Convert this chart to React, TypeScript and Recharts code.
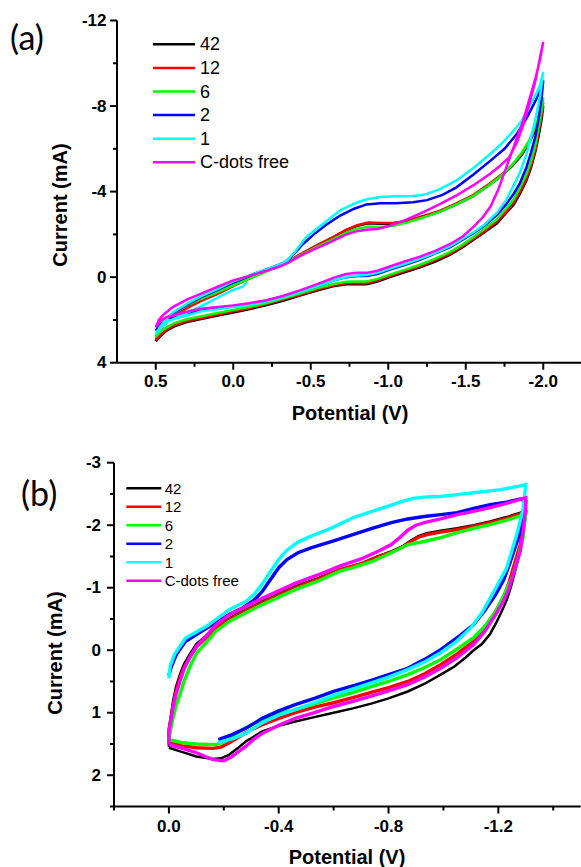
import React from 'react';
import { LineChart, Line, XAxis, YAxis, Legend } from 'recharts';

type Pt = [number, number];

const SERIES_NAMES = ['42', '12', '6', '2', '1', 'C-dots free'];
const SERIES_COLORS = ['#000000', '#ff0000', '#00ff00', '#0000ff', '#00ffff', '#ff00ff'];

// ---------- panel (a) axes ----------
const A_X_MAJOR = [0.5, 0, -0.5, -1, -1.5, -2];
const A_X_LABELS = ['0.5', '0.0', '-0.5', '-1.0', '-1.5', '-2.0'];
const A_X_MINOR = [0.25, -0.25, -0.75, -1.25, -1.75];
const A_Y_MAJOR = [-12, -8, -4, 0, 4];
const A_Y_LABELS = ['-12', '-8', '-4', '0', '4'];
const A_Y_MINOR = [-10, -6, -2, 2];

// ---------- panel (a) data: [potential V, current mA] ----------
const A_42: Pt[] = [
  [0.5, 3.0], [0.47, 2.75], [0.43, 2.5], [0.38, 2.3], [0.3, 2.1], [0.2, 1.95], [0.1, 1.8], [0.0, 1.65],
  [-0.1, 1.5], [-0.21, 1.32], [-0.32, 1.1], [-0.43, 0.86], [-0.55, 0.6], [-0.65, 0.42], [-0.73, 0.33],
  [-0.8, 0.32], [-0.86, 0.33], [-0.93, 0.2], [-1.01, 0.0], [-1.1, -0.22], [-1.2, -0.45], [-1.3, -0.72],
  [-1.4, -1.05], [-1.48, -1.4], [-1.55, -1.75], [-1.62, -2.1], [-1.7, -2.5], [-1.76, -3.0], [-1.81, -3.4],
  [-1.85, -3.9], [-1.89, -4.5], [-1.92, -5.1], [-1.95, -5.9], [-1.97, -6.6], [-1.99, -7.4], [-2.0, -8.0],
  [-1.98, -7.5], [-1.95, -6.9], [-1.91, -6.3], [-1.86, -5.7], [-1.8, -5.2], [-1.74, -4.8], [-1.65, -4.3],
  [-1.55, -3.8], [-1.44, -3.4], [-1.33, -3.05], [-1.22, -2.8], [-1.12, -2.6], [-1.03, -2.5], [-0.95, -2.5],
  [-0.87, -2.52], [-0.8, -2.4], [-0.73, -2.2], [-0.63, -1.8], [-0.52, -1.4], [-0.42, -1.0], [-0.35, -0.7],
  [-0.3, -0.55], [-0.2, -0.25], [-0.1, 0.05], [0.0, 0.39], [0.1, 0.75], [0.21, 1.09], [0.3, 1.4],
  [0.39, 1.8], [0.45, 2.2], [0.48, 2.6], [0.5, 3.0],
];
const A_12: Pt[] = [
  [0.5, 2.95], [0.47, 2.7], [0.43, 2.45], [0.38, 2.25], [0.3, 2.05], [0.2, 1.9], [0.1, 1.75], [0.0, 1.6],
  [-0.1, 1.45], [-0.21, 1.27], [-0.32, 1.05], [-0.43, 0.82], [-0.55, 0.56], [-0.65, 0.38], [-0.73, 0.29],
  [-0.8, 0.27], [-0.86, 0.28], [-0.93, 0.15], [-1.01, -0.05], [-1.1, -0.27], [-1.2, -0.5], [-1.3, -0.78],
  [-1.4, -1.1], [-1.48, -1.45], [-1.55, -1.8], [-1.62, -2.15], [-1.7, -2.6], [-1.76, -3.05], [-1.81, -3.5],
  [-1.85, -4.0], [-1.89, -4.6], [-1.92, -5.2], [-1.95, -6.0], [-1.97, -6.8], [-1.99, -7.6], [-2.0, -8.2],
  [-1.98, -7.6], [-1.95, -7.0], [-1.91, -6.35], [-1.86, -5.75], [-1.8, -5.25], [-1.74, -4.85], [-1.65, -4.35],
  [-1.55, -3.85], [-1.44, -3.45], [-1.33, -3.1], [-1.22, -2.85], [-1.12, -2.63], [-1.03, -2.53], [-0.95, -2.53],
  [-0.87, -2.55], [-0.8, -2.43], [-0.73, -2.22], [-0.63, -1.82], [-0.52, -1.42], [-0.42, -1.02], [-0.35, -0.7],
  [-0.3, -0.55], [-0.2, -0.23], [-0.1, 0.08], [0.0, 0.42], [0.1, 0.78], [0.21, 1.12], [0.3, 1.45],
  [0.39, 1.85], [0.45, 2.25], [0.48, 2.6], [0.5, 2.95],
];
const A_6: Pt[] = [
  [0.5, 2.8], [0.47, 2.55], [0.43, 2.35], [0.38, 2.15], [0.3, 1.97], [0.2, 1.82], [0.1, 1.68], [0.0, 1.53],
  [-0.1, 1.4], [-0.21, 1.22], [-0.32, 1.0], [-0.43, 0.77], [-0.55, 0.5], [-0.65, 0.32], [-0.73, 0.22],
  [-0.8, 0.2], [-0.86, 0.2], [-0.93, 0.08], [-1.01, -0.12], [-1.1, -0.33], [-1.2, -0.57], [-1.3, -0.85],
  [-1.4, -1.18], [-1.48, -1.52], [-1.55, -1.88], [-1.62, -2.25], [-1.7, -2.7], [-1.76, -3.2], [-1.81, -3.65],
  [-1.85, -4.2], [-1.89, -4.8], [-1.92, -5.4], [-1.95, -6.2], [-1.97, -7.0], [-1.99, -7.8], [-2.0, -8.4],
  [-1.98, -7.8], [-1.95, -7.1], [-1.91, -6.4], [-1.86, -5.8], [-1.8, -5.25], [-1.74, -4.8], [-1.65, -4.3],
  [-1.55, -3.8], [-1.44, -3.4], [-1.33, -3.05], [-1.22, -2.78], [-1.12, -2.55], [-1.03, -2.4], [-0.95, -2.35],
  [-0.87, -2.36], [-0.8, -2.26], [-0.73, -2.08], [-0.63, -1.72], [-0.52, -1.35], [-0.42, -0.97], [-0.35, -0.68],
  [-0.3, -0.53], [-0.2, -0.22], [-0.1, 0.08], [0.0, 0.38], [0.1, 0.7], [0.21, 1.02], [0.3, 1.33],
  [0.39, 1.72], [0.45, 2.12], [0.48, 2.45], [0.5, 2.8],
];
const A_2: Pt[] = [
  [0.5, 2.5], [0.47, 2.2], [0.43, 2.0], [0.3, 1.75], [0.21, 1.55], [0.1, 1.45], [0.0, 1.35], [-0.1, 1.25],
  [-0.21, 1.1], [-0.32, 0.9], [-0.43, 0.68], [-0.55, 0.4], [-0.65, 0.15], [-0.73, 0.0], [-0.8, -0.05],
  [-0.86, -0.05], [-0.93, -0.15], [-1.01, -0.35], [-1.1, -0.55], [-1.2, -0.8], [-1.3, -1.1], [-1.4, -1.4],
  [-1.48, -1.75], [-1.55, -2.05], [-1.62, -2.4], [-1.7, -2.9], [-1.76, -3.4], [-1.81, -3.9], [-1.85, -4.4],
  [-1.89, -5.1], [-1.92, -5.8], [-1.95, -6.6], [-1.97, -7.4], [-1.99, -8.4], [-2.0, -9.2],
  [-1.98, -8.7], [-1.94, -8.1], [-1.89, -7.4], [-1.83, -6.7], [-1.75, -6.0], [-1.66, -5.45], [-1.55, -4.8],
  [-1.44, -4.2], [-1.35, -3.85], [-1.25, -3.6], [-1.16, -3.5], [-1.05, -3.45], [-0.95, -3.45], [-0.86, -3.4],
  [-0.78, -3.2], [-0.69, -2.88], [-0.6, -2.45], [-0.52, -2.0], [-0.45, -1.55], [-0.4, -1.15], [-0.36, -0.85],
  [-0.32, -0.65], [-0.25, -0.45], [-0.15, -0.2], [0.0, 0.25], [0.1, 0.6], [0.21, 0.95], [0.3, 1.3],
  [0.39, 1.7], [0.45, 2.1], [0.5, 2.5],
];
const A_1: Pt[] = [
  [-0.09, 0.23], [-0.06, 0.45], [0.0, 0.6], [0.06, 0.8], [0.15, 1.15], [0.22, 1.4], [0.28, 1.6], [0.35, 1.85],
  [0.43, 2.1], [0.5, 2.65], [0.47, 2.3], [0.43, 2.05], [0.3, 1.8], [0.21, 1.6], [0.1, 1.5], [0.0, 1.4],
  [-0.1, 1.3], [-0.21, 1.15], [-0.32, 0.95], [-0.43, 0.7], [-0.55, 0.4], [-0.65, 0.15], [-0.73, -0.02],
  [-0.8, -0.08], [-0.86, -0.1], [-0.93, -0.2], [-1.01, -0.4], [-1.1, -0.6], [-1.2, -0.85], [-1.3, -1.12],
  [-1.4, -1.45], [-1.48, -1.8], [-1.55, -2.1], [-1.62, -2.45], [-1.7, -3.0], [-1.76, -3.6], [-1.81, -4.3],
  [-1.85, -4.9], [-1.89, -5.7], [-1.92, -6.5], [-1.95, -7.4], [-1.98, -8.5], [-2.0, -9.6],
  [-1.98, -9.0], [-1.95, -8.5], [-1.91, -8.0], [-1.86, -7.3], [-1.81, -6.86], [-1.74, -6.3], [-1.66, -5.77],
  [-1.55, -5.1], [-1.44, -4.52], [-1.33, -4.1], [-1.23, -3.85], [-1.16, -3.8], [-1.05, -3.78], [-0.95, -3.75],
  [-0.87, -3.65], [-0.8, -3.5], [-0.69, -3.12], [-0.58, -2.5], [-0.47, -1.87], [-0.4, -1.2], [-0.35, -0.8],
  [-0.32, -0.65], [-0.25, -0.45], [-0.15, -0.2], [0.0, 0.2], [0.1, 0.55], [0.21, 0.9], [0.3, 1.25],
  [0.39, 1.65], [0.45, 2.1], [0.5, 2.65],
];
const A_FREE: Pt[] = [
  [0.5, 2.35], [0.47, 2.05], [0.43, 1.87], [0.3, 1.62], [0.21, 1.48], [0.1, 1.4], [0.0, 1.32], [-0.1, 1.22],
  [-0.21, 1.09], [-0.32, 0.88], [-0.43, 0.62], [-0.55, 0.3], [-0.65, 0.02], [-0.73, -0.15], [-0.8, -0.2],
  [-0.86, -0.2], [-0.93, -0.3], [-1.01, -0.5], [-1.1, -0.72], [-1.2, -0.95], [-1.3, -1.22], [-1.4, -1.55],
  [-1.48, -1.9], [-1.55, -2.35], [-1.61, -2.8], [-1.66, -3.3], [-1.71, -4.1], [-1.76, -5.1], [-1.81, -6.1],
  [-1.87, -7.3], [-1.91, -8.3], [-1.95, -9.3], [-1.98, -10.2], [-2.0, -11.0],
  [-1.98, -10.3], [-1.95, -9.2], [-1.91, -8.1], [-1.87, -7.1], [-1.83, -6.3], [-1.78, -5.6], [-1.72, -5.2],
  [-1.66, -4.85], [-1.55, -4.3], [-1.44, -3.82], [-1.33, -3.4], [-1.23, -3.05], [-1.12, -2.7], [-1.01, -2.4],
  [-0.93, -2.25], [-0.86, -2.22], [-0.8, -2.15], [-0.73, -2.0], [-0.63, -1.65], [-0.52, -1.3], [-0.42, -0.95],
  [-0.35, -0.65], [-0.3, -0.5], [-0.22, -0.31], [-0.1, -0.05], [0.0, 0.15], [0.1, 0.45], [0.21, 0.78],
  [0.3, 1.05], [0.39, 1.4], [0.45, 1.75], [0.48, 2.0], [0.5, 2.35],
];

// ---------- panel (b) axes ----------
const B_X_MAJOR = [0, -0.4, -0.8, -1.2];
const B_X_LABELS = ['0.0', '-0.4', '-0.8', '-1.2'];
const B_X_MINOR = [0.2, -0.2, -0.6, -1.0, -1.4];
const B_Y_MAJOR = [-3, -2, -1, 0, 1, 2];
const B_Y_LABELS = ['-3', '-2', '-1', '0', '1', '2'];
const B_Y_MINOR = [-2.5, -1.5, -0.5, 0.5, 1.5, 2.5];

// ---------- panel (b) data ----------
const B_42: Pt[] = [
  [0.0, 1.56], [-0.05, 1.63], [-0.1, 1.7], [-0.16, 1.74], [-0.19, 1.73], [-0.22, 1.67], [-0.25, 1.57],
  [-0.28, 1.46], [-0.31, 1.38], [-0.34, 1.3], [-0.4, 1.21], [-0.46, 1.14], [-0.53, 1.07], [-0.6, 1.0],
  [-0.67, 0.93], [-0.74, 0.85], [-0.8, 0.77], [-0.87, 0.66], [-0.93, 0.54], [-0.99, 0.39], [-1.04, 0.26],
  [-1.08, 0.12], [-1.11, 0.0], [-1.14, -0.1], [-1.17, -0.26], [-1.19, -0.42], [-1.21, -0.6], [-1.23, -0.8],
  [-1.245, -1.0], [-1.26, -1.25], [-1.27, -1.42], [-1.28, -1.65], [-1.29, -1.85], [-1.3, -2.22],
  [-1.28, -2.2], [-1.23, -2.13], [-1.17, -2.06], [-1.11, -2.0], [-1.05, -1.95], [-0.99, -1.91], [-0.94, -1.87],
  [-0.91, -1.83], [-0.88, -1.75], [-0.85, -1.66], [-0.81, -1.58], [-0.76, -1.5], [-0.7, -1.39], [-0.62, -1.29],
  [-0.54, -1.15], [-0.46, -1.02], [-0.4, -0.9], [-0.34, -0.78], [-0.28, -0.65], [-0.22, -0.51], [-0.17, -0.38],
  [-0.14, -0.25], [-0.1, -0.1], [-0.075, 0.07], [-0.055, 0.22], [-0.04, 0.39], [-0.025, 0.6], [-0.015, 0.82],
  [-0.007, 1.05], [0.0, 1.25], [0.0, 1.55],
];
const B_12: Pt[] = [
  [0.0, 1.48], [-0.05, 1.53], [-0.1, 1.56], [-0.16, 1.57], [-0.19, 1.55], [-0.22, 1.48], [-0.28, 1.32],
  [-0.34, 1.19], [-0.4, 1.09], [-0.46, 1.0], [-0.53, 0.91], [-0.6, 0.84], [-0.67, 0.76], [-0.74, 0.67],
  [-0.8, 0.6], [-0.87, 0.5], [-0.93, 0.38], [-0.99, 0.23], [-1.05, 0.06], [-1.11, -0.14], [-1.15, -0.35],
  [-1.19, -0.62], [-1.22, -0.85], [-1.24, -1.1], [-1.26, -1.4], [-1.28, -1.69], [-1.29, -1.95], [-1.3, -2.2],
  [-1.28, -2.18], [-1.23, -2.11], [-1.17, -2.04], [-1.11, -1.98], [-1.05, -1.93], [-0.99, -1.89], [-0.94, -1.85],
  [-0.91, -1.81], [-0.88, -1.73], [-0.85, -1.65], [-0.81, -1.57], [-0.76, -1.49], [-0.7, -1.38], [-0.62, -1.28],
  [-0.54, -1.13], [-0.46, -1.0], [-0.4, -0.88], [-0.34, -0.76], [-0.28, -0.63], [-0.22, -0.49], [-0.17, -0.35],
  [-0.14, -0.22], [-0.1, -0.05], [-0.075, 0.12], [-0.055, 0.28], [-0.04, 0.45], [-0.025, 0.68], [-0.015, 0.9],
  [-0.007, 1.12], [0.0, 1.3], [0.0, 1.48],
];
const B_6: Pt[] = [
  [0.0, 1.43], [-0.05, 1.48], [-0.1, 1.5], [-0.17, 1.51], [-0.2, 1.47], [-0.22, 1.4], [-0.28, 1.24],
  [-0.34, 1.11], [-0.4, 1.02], [-0.46, 0.95], [-0.53, 0.86], [-0.6, 0.76], [-0.67, 0.68], [-0.74, 0.58],
  [-0.8, 0.5], [-0.87, 0.39], [-0.93, 0.28], [-0.99, 0.15], [-1.05, -0.02], [-1.11, -0.2], [-1.15, -0.38],
  [-1.19, -0.62], [-1.22, -0.88], [-1.25, -1.16], [-1.27, -1.45], [-1.29, -1.8], [-1.3, -2.2],
  [-1.28, -2.15], [-1.23, -2.08], [-1.17, -2.01], [-1.11, -1.95], [-1.05, -1.88], [-0.99, -1.8], [-0.93, -1.74],
  [-0.87, -1.69], [-0.81, -1.56], [-0.74, -1.42], [-0.67, -1.32], [-0.62, -1.26], [-0.54, -1.1], [-0.46, -0.97],
  [-0.4, -0.85], [-0.34, -0.73], [-0.28, -0.6], [-0.22, -0.46], [-0.17, -0.3], [-0.14, -0.14], [-0.1, 0.05],
  [-0.075, 0.28], [-0.055, 0.5], [-0.04, 0.71], [-0.025, 0.9], [-0.015, 1.08], [-0.007, 1.25], [0.0, 1.43],
];
const B_2: Pt[] = [
  [-0.18, 1.43], [-0.23, 1.35], [-0.28, 1.25], [-0.34, 1.09], [-0.4, 0.97], [-0.46, 0.87], [-0.53, 0.77],
  [-0.6, 0.66], [-0.67, 0.57], [-0.74, 0.48], [-0.8, 0.39], [-0.87, 0.29], [-0.93, 0.15], [-0.99, -0.01],
  [-1.05, -0.2], [-1.11, -0.41], [-1.15, -0.63], [-1.19, -0.89], [-1.22, -1.13], [-1.24, -1.37], [-1.26, -1.63],
  [-1.28, -1.9], [-1.3, -2.38],
  [-1.28, -2.42], [-1.23, -2.37], [-1.17, -2.33], [-1.11, -2.27], [-1.05, -2.2], [-0.99, -2.17], [-0.93, -2.14],
  [-0.87, -2.1], [-0.81, -2.04], [-0.74, -1.95], [-0.67, -1.85], [-0.6, -1.75], [-0.52, -1.64], [-0.47, -1.56],
  [-0.43, -1.45], [-0.4, -1.32], [-0.37, -1.13], [-0.34, -0.94], [-0.31, -0.8], [-0.27, -0.68], [-0.22, -0.57],
  [-0.14, -0.36], [-0.1, -0.25], [-0.06, -0.14], [-0.027, 0.07], [-0.01, 0.25], [0.0, 0.4],
];
const B_1: Pt[] = [
  [-0.18, 1.48], [-0.23, 1.42], [-0.28, 1.33], [-0.34, 1.16], [-0.4, 1.04], [-0.46, 0.95], [-0.53, 0.84],
  [-0.6, 0.72], [-0.67, 0.62], [-0.74, 0.52], [-0.8, 0.43], [-0.87, 0.31], [-0.93, 0.19], [-0.99, 0.04],
  [-1.05, -0.15], [-1.1, -0.36], [-1.14, -0.6], [-1.17, -0.83], [-1.2, -1.07], [-1.23, -1.31], [-1.25, -1.6],
  [-1.27, -1.9], [-1.29, -2.25], [-1.3, -2.65],
  [-1.28, -2.63], [-1.21, -2.57], [-1.11, -2.52], [-1.05, -2.49], [-0.99, -2.46], [-0.93, -2.45], [-0.89, -2.43],
  [-0.85, -2.38], [-0.81, -2.32], [-0.74, -2.22], [-0.67, -2.12], [-0.59, -1.95], [-0.52, -1.83], [-0.47, -1.73],
  [-0.43, -1.6], [-0.4, -1.45], [-0.37, -1.26], [-0.34, -1.06], [-0.31, -0.89], [-0.28, -0.78], [-0.22, -0.65],
  [-0.14, -0.39], [-0.06, -0.19], [-0.02, 0.07], [-0.005, 0.25], [0.0, 0.45],
];
const B_FREE: Pt[] = [
  [0.0, 1.51], [-0.05, 1.57], [-0.1, 1.64], [-0.16, 1.75], [-0.2, 1.77], [-0.23, 1.7], [-0.26, 1.6],
  [-0.28, 1.54], [-0.31, 1.42], [-0.34, 1.33], [-0.4, 1.2], [-0.46, 1.09], [-0.53, 1.0], [-0.6, 0.9],
  [-0.67, 0.82], [-0.74, 0.73], [-0.8, 0.65], [-0.87, 0.55], [-0.93, 0.43], [-0.99, 0.29], [-1.05, 0.12],
  [-1.11, -0.09], [-1.15, -0.3], [-1.19, -0.57], [-1.22, -0.8], [-1.24, -1.0], [-1.26, -1.3], [-1.28, -1.58],
  [-1.29, -1.9], [-1.3, -2.28],
  [-1.3, -2.44], [-1.23, -2.35], [-1.17, -2.28], [-1.11, -2.22], [-1.05, -2.17], [-0.99, -2.1], [-0.93, -2.04],
  [-0.9, -2.0], [-0.87, -1.92], [-0.84, -1.8], [-0.81, -1.69], [-0.77, -1.6], [-0.7, -1.46], [-0.62, -1.34],
  [-0.54, -1.2], [-0.46, -1.07], [-0.4, -0.95], [-0.34, -0.83], [-0.28, -0.7], [-0.22, -0.57], [-0.17, -0.4],
  [-0.14, -0.25], [-0.1, -0.06], [-0.075, 0.12], [-0.055, 0.3], [-0.04, 0.5], [-0.025, 0.72], [-0.015, 0.92],
  [-0.007, 1.12], [0.0, 1.3], [0.0, 1.51],
];

const A_SERIES = [A_42, A_12, A_6, A_2, A_1, A_FREE];
const B_SERIES = [B_42, B_12, B_6, B_2, B_1, B_FREE];

const FONT = "'Liberation Sans', Arial, sans-serif";
const toRows = (pts: Pt[]) => pts.map(([v, i]) => ({ v, i }));

const findMajor = (majors: number[], value: number) =>
  majors.findIndex((m) => Math.abs(m - value) < 1e-6);

const makeXTick = (majors: number[], labels: string[], gap: number, fs: number) => (props: any) => {
  const { x, y, payload } = props;
  const k = findMajor(majors, payload.value);
  return (
    <g>
      <line x1={x} y1={y} x2={x} y2={y + (k >= 0 ? 7 : 4)} stroke="#000" strokeWidth={2} />
      {k >= 0 && (
        <text x={x} y={y + gap} textAnchor="middle" dominantBaseline="central" fontSize={fs}
          fontWeight="bold" fontFamily={FONT} fill="#000">{labels[k]}</text>
      )}
    </g>
  );
};

const makeYTick = (majors: number[], labels: string[], gap: number, fs: number) => (props: any) => {
  const { x, y, payload } = props;
  const k = findMajor(majors, payload.value);
  return (
    <g>
      <line x1={x} y1={y} x2={x - (k >= 0 ? 7 : 4)} y2={y} stroke="#000" strokeWidth={2} />
      {k >= 0 && (
        <text x={x - gap} y={y} textAnchor="end" dominantBaseline="central" fontSize={fs}
          fontWeight="bold" fontFamily={FONT} fill="#000">{labels[k]}</text>
      )}
    </g>
  );
};

const makeLegend = (opts: { step: number; y0: number; x1: number; x2: number; tx: number; fs: number; w: number }) =>
  () => (
    <svg width={opts.w} height={opts.y0 * 2 + opts.step * (SERIES_NAMES.length - 1)} style={{ display: 'block' }}>
      {SERIES_NAMES.map((name, i) => (
        <g key={name}>
          <line x1={opts.x1} x2={opts.x2} y1={opts.y0 + i * opts.step} y2={opts.y0 + i * opts.step}
            stroke={SERIES_COLORS[i]} strokeWidth={2.5} />
          <text x={opts.tx} y={opts.y0 + i * opts.step} dominantBaseline="central" fontSize={opts.fs}
            fontFamily={FONT} fill="#000">{name}</text>
        </g>
      ))}
    </svg>
  );

const axisLine = { stroke: '#000', strokeWidth: 2 };

const titleStyle = (cx: number, cy: number, fs: number, rotate = false): React.CSSProperties => ({
  position: 'absolute', left: cx, top: cy, fontFamily: FONT, fontWeight: 'bold', fontSize: fs,
  lineHeight: `${fs}px`, whiteSpace: 'nowrap', color: '#000',
  transform: `translate(-50%, -50%)${rotate ? ' rotate(-90deg)' : ''}`,
});

const panelLabelStyle = (left: number, top: number): React.CSSProperties => ({
  position: 'absolute', left, top, fontFamily: 'Lato, sans-serif', fontSize: 34, lineHeight: '34px', color: '#000',
});

export default function App() {
  return (
    <div style={{ position: 'absolute', left: 0, top: 0, width: 581, height: 867, overflow: 'hidden', background: '#fff' }}>
      {/* Panel (a) */}
      <div style={{ position: 'absolute', left: 0, top: 0 }}>
        <LineChart width={600} height={430} margin={{ top: 20.5, right: 18, bottom: 37.3, left: 57 }}>
          <XAxis dataKey="v" type="number" domain={[-2.25, 0.75]} reversed allowDataOverflow
            ticks={[...A_X_MAJOR, ...A_X_MINOR]} interval={0} tickSize={0} tickMargin={0} tickLine={false}
            tick={makeXTick(A_X_MAJOR, A_X_LABELS, 19, 17)} axisLine={axisLine} height={30} />
          <XAxis xAxisId="top" orientation="top" type="number" domain={[-2.25, 0.75]} reversed allowDataOverflow
            height={0} tick={false} tickLine={false} axisLine={axisLine} />
          <YAxis type="number" domain={[-12, 4]} reversed allowDataOverflow
            ticks={[...A_Y_MAJOR, ...A_Y_MINOR]} interval={0} tickSize={0} tickMargin={0} tickLine={false}
            tick={makeYTick(A_Y_MAJOR, A_Y_LABELS, 10.5, 17)} axisLine={axisLine} width={60} />
          <YAxis yAxisId="right" orientation="right" type="number" domain={[-12, 4]} reversed allowDataOverflow
            width={0} tick={false} tickLine={false} axisLine={axisLine} />
          <Legend layout="vertical" align="center" verticalAlign="middle"
            wrapperStyle={{ left: 150, top: 32, width: 200 }}
            content={makeLegend({ step: 23.6, y0: 12.3, x1: 3, x2: 45, tx: 50, fs: 18, w: 200 })} />
          {A_SERIES.map((s, k) => (
            <Line key={SERIES_NAMES[k]} name={SERIES_NAMES[k]} data={toRows(s)} dataKey="i" type="linear"
              stroke={SERIES_COLORS[k]} strokeWidth={2.5} dot={false} isAnimationActive={false} />
          ))}
        </LineChart>
      </div>
      <div style={panelLabelStyle(10, 20)}>(a)</div>
      <div style={titleStyle(60, 205, 20, true)}>Current (mA)</div>
      <div style={titleStyle(350, 413, 20)}>Potential (V)</div>

      {/* Panel (b) */}
      <div style={{ position: 'absolute', left: 0, top: 440 }}>
        <LineChart width={600} height={427} margin={{ top: 22.7, right: 19.3, bottom: 30.5, left: 54 }}>
          <XAxis dataKey="v" type="number" domain={[-1.5, 0.2]} reversed allowDataOverflow
            ticks={[...B_X_MAJOR, ...B_X_MINOR]} interval={0} tickSize={0} tickMargin={0} tickLine={false}
            tick={makeXTick(B_X_MAJOR, B_X_LABELS, 20, 17)} axisLine={axisLine} height={30} />
          <XAxis xAxisId="top" orientation="top" type="number" domain={[-1.5, 0.2]} reversed allowDataOverflow
            height={0} tick={false} tickLine={false} axisLine={axisLine} />
          <YAxis type="number" domain={[-3, 2.5]} reversed allowDataOverflow
            ticks={[...B_Y_MAJOR, ...B_Y_MINOR]} interval={0} tickSize={0} tickMargin={0} tickLine={false}
            tick={makeYTick(B_Y_MAJOR, B_Y_LABELS, 13, 17)} axisLine={axisLine} width={60} />
          <YAxis yAxisId="right" orientation="right" type="number" domain={[-3, 2.5]} reversed allowDataOverflow
            width={0} tick={false} tickLine={false} axisLine={axisLine} />
          <Legend layout="vertical" align="center" verticalAlign="middle"
            wrapperStyle={{ left: 124, top: 38, width: 160 }}
            content={makeLegend({ step: 18.5, y0: 10.3, x1: 2.3, x2: 37.3, tx: 40.7, fs: 15, w: 160 })} />
          {B_SERIES.map((s, k) => (
            <Line key={SERIES_NAMES[k]} name={SERIES_NAMES[k]} data={toRows(s)} dataKey="i" type="linear"
              stroke={SERIES_COLORS[k]} strokeWidth={k === 0 ? 2.5 : 3.4} dot={false} isAnimationActive={false} />
          ))}
        </LineChart>
      </div>
      <div style={panelLabelStyle(21, 476)}>(b)</div>
      <div style={titleStyle(55, 653, 20, true)}>Current (mA)</div>
      <div style={titleStyle(347, 857, 20)}>Potential (V)</div>
    </div>
  );
}
